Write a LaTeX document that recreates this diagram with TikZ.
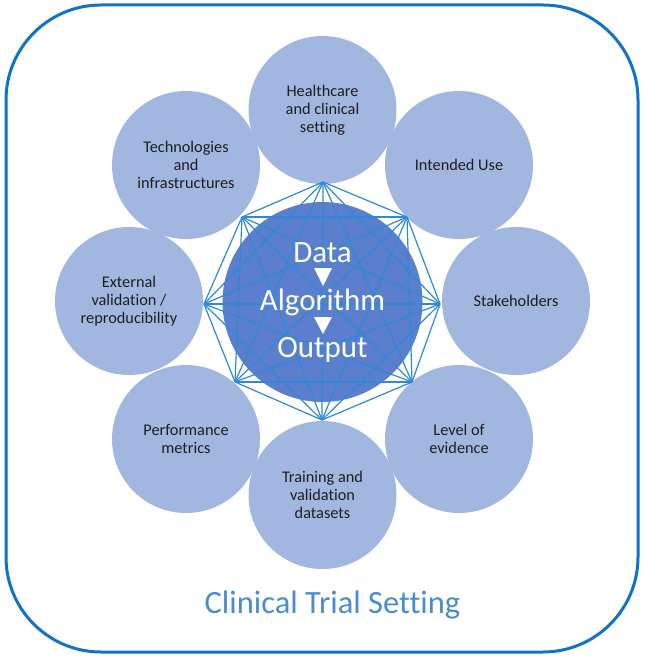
\documentclass[tikz,border=0pt]{standalone}
\usepackage{fontspec}
\setmainfont[Ligatures=NoCommon]{Carlito}
\definecolor{framec}{HTML}{1173C6}
\definecolor{outerc}{HTML}{A2B7E0}
\definecolor{innerc}{HTML}{5B7FCC}
\definecolor{edgec}{HTML}{2E8AD8}
\definecolor{titlec}{HTML}{4A8CD2}
\definecolor{textc}{HTML}{1E1E1E}
\tikzset{
  topic/.style={circle, fill=outerc, minimum size=148pt, inner sep=0pt, align=center,
    text=textc, font=\fontsize{16.3}{18}\selectfont},
  core/.style={circle, fill=innerc, minimum size=200pt, inner sep=0pt},
  coretext/.style={anchor=base, text=white, inner sep=0pt, font=\fontsize{31}{36}\selectfont},
  link/.style={draw=edgec, line width=1.2pt},
  arrowtri/.style={fill=white},
}
\begin{document}
\begin{tikzpicture}[x=1pt,y=-1pt]
\useasboundingbox (0,0) rectangle (645,658);
% frame
\draw[framec, line width=3pt, rounded corners=95pt] (6,5) rectangle (638,652);
% outer circles
\node[topic] (health) at (322.5,110) {Healthcare\\and clinical\\setting};
\node[topic] (use) at (459,165) {Intended Use};
\node[topic] (stake) at (516,301) {Stakeholders};
\node[topic] (level) at (459,439) {Level of\\evidence};
\node[topic] (train) at (322.5,495) {Training and\\validation\\datasets};
\node[topic] (perf) at (186,439) {Performance\\metrics};
\node[topic] (ext) at (129,301) {External\\validation /\\reproducibility};
\node[topic] (tech) at (186,165) {Technologies\\and\\infrastructures};
% core
\node[core] (core) at (322.5,302) {};
% octagon vertices
\coordinate (v1) at (323,182);
\coordinate (v2) at (407,217);
\coordinate (v3) at (440,304);
\coordinate (v4) at (412,382);
\coordinate (v5) at (322,420);
\coordinate (v6) at (235,382);
\coordinate (v7) at (204,304);
\coordinate (v8) at (242,217);
\foreach \i in {1,...,7}{
  \pgfmathtruncatemacro{\s}{\i+1}
  \foreach \j in {\s,...,8}{
    \draw[link] (v\i) -- (v\j);
  }
}
% core text
\node[coretext] (data) at (322.5,262) {Data};
\node[coretext] (algo) at (322.5,310) {Algorithm};
\node[coretext] (outp) at (322.5,357) {Output};
\fill[arrowtri] (314,268) -- (332,268) -- (323,286) -- cycle;
\fill[arrowtri] (314,317) -- (332,317) -- (323,334) -- cycle;
% title
\node[anchor=base, text=titlec, inner sep=0pt, font=\fontsize{32.5}{36}\selectfont] (title) at (332.5,613) {Clinical Trial Setting};
\end{tikzpicture}
\end{document}
